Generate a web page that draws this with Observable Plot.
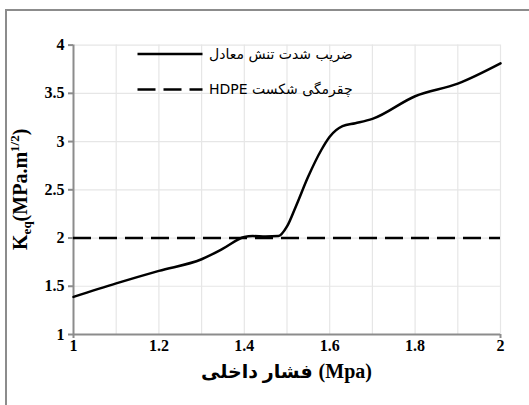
<!DOCTYPE html>
<html><head><meta charset="utf-8">
<script src="https://cdn.jsdelivr.net/npm/d3@7"></script>
<script src="https://cdn.jsdelivr.net/npm/@observablehq/plot@0.6"></script>
<style>
body{margin:0;background:#fff}
#wrap{position:relative;width:529px;height:405px;overflow:hidden}
#border{position:absolute;left:5px;top:9px;width:600px;height:600px;border:2px solid #8c8c8c;box-sizing:border-box;pointer-events:none}
svg{display:block}
</style>
</head><body>
<div id="wrap"></div>
<script>
// Data
const pressure = [1.0, 1.1, 1.2, 1.3, 1.35, 1.4, 1.42, 1.45, 1.48, 1.5, 1.52, 1.55, 1.58, 1.6, 1.63, 1.66, 1.7, 1.8, 1.9, 2.0];
const keq      = [1.39, 1.53, 1.66, 1.78, 1.89, 2.01, 2.02, 2.015, 2.02, 2.12, 2.32, 2.64, 2.91, 3.05, 3.16, 3.19, 3.235, 3.47, 3.60, 3.81];
const toughness = [2];
const seriesNames = ["ضریب شدت تنش معادل", "چقرمگی شکست HDPE"];
const xLabelTicks = [1, 1.2, 1.4, 1.6, 1.8, 2];
const xGridTicks = [1.1, 1.2, 1.3, 1.4, 1.5, 1.6, 1.7, 1.8, 1.9, 2.0];
const xEndTicks = [1, 2];
const yTicks = [1, 1.5, 2, 2.5, 3, 3.5, 4];
const yGridTicks = [1.5, 2, 2.5, 3, 3.5, 4];
const xTitleWords = "فشار داخلی";
const xTitleUnit = "(Mpa)";

const data = pressure.map((p, i) => ({p, k: keq[i]}));
const serif = "Liberation Serif, Times New Roman, DejaVu Sans";
const fmt = d => String(d);

const chart = Plot.plot({
  width: 529, height: 405,
  marginLeft: 73, marginRight: 29, marginTop: 44.6, marginBottom: 71,
  style: {background: "transparent", fontFamily: serif, color: "#000"},
  x: {domain: [1, 2], label: null},
  y: {domain: [1, 4], label: null},
  marks: [
    Plot.gridX(xGridTicks, {stroke: "#e6e6e6", strokeOpacity: 1, strokeWidth: 1.2}),
    Plot.gridY(yGridTicks, {stroke: "#e6e6e6", strokeOpacity: 1, strokeWidth: 1.2}),
    Plot.axisY(yTicks, {tickSize: 5, tickPadding: 4, stroke: "#8c8c8c", strokeWidth: 2, fill: "#000", fontSize: 16, fontWeight: "bold", fontFamily: serif, tickFormat: fmt, label: null}),
    Plot.axisX(xEndTicks, {tickSize: 4, stroke: "#8c8c8c", strokeWidth: 2, tickFormat: () => "", label: null}),
    Plot.axisX(xLabelTicks, {tickSize: 0, tickPadding: 5, fill: "#000", fontSize: 16, fontWeight: "bold", fontFamily: serif, tickFormat: fmt, label: null}),
    Plot.ruleX([1], {stroke: "#8c8c8c", strokeWidth: 2}),
    Plot.ruleY([1], {stroke: "#8c8c8c", strokeWidth: 2}),
    Plot.ruleY(toughness, {stroke: "#000", strokeWidth: 2.5, strokeDasharray: "18,8"}),
    Plot.line(data, {x: "p", y: "k", stroke: "#000", strokeWidth: 2.5, curve: "monotone-x"})
  ]
});

const wrap = document.getElementById("wrap");
wrap.appendChild(chart);
const border = document.createElement("div");
border.id = "border";
wrap.appendChild(border);

const svg = d3.select(chart);
const xs = chart.scale("x"), ys = chart.scale("y");
const xMid = (xs.apply(1) + xs.apply(2)) / 2;
const yMid = (ys.apply(1) + ys.apply(4)) / 2;

// x-axis title: Persian words then unit, laid out left to right
const titleY = ys.apply(1) + 44;
const t1 = svg.append("text").attr("y", titleY).attr("text-anchor", "start")
  .attr("font-family", serif).attr("font-weight", "bold").attr("font-size", 19).attr("fill", "#000")
  .text(xTitleWords);
const t2 = svg.append("text").attr("y", titleY).attr("text-anchor", "start").attr("direction", "ltr")
  .attr("font-family", serif).attr("font-weight", "bold").attr("font-size", 20).attr("fill", "#000")
  .text(xTitleUnit);
const w1 = t1.node().getComputedTextLength(), w2 = t2.node().getComputedTextLength(), gap = 6;
const start = xMid - (w1 + gap + w2) / 2;
t1.attr("x", start);
t2.attr("x", start + w1 + gap);

// y-axis title with subscript / superscript
const yt = svg.append("text")
  .attr("transform", `translate(${xs.apply(1) - 46},${yMid}) rotate(-90)`)
  .attr("text-anchor", "middle")
  .attr("font-family", serif).attr("font-weight", "bold").attr("font-size", 20)
  .attr("fill", "#000");
yt.append("tspan").text("K");
yt.append("tspan").attr("font-size", 13).attr("dy", 4).text("eq");
yt.append("tspan").attr("dy", -4).text("(MPa.m");
yt.append("tspan").attr("font-size", 13).attr("dy", -8).text("1/2");
yt.append("tspan").attr("dy", 8).text(")");

// legend
const legend = svg.append("g");
const legendRows = [{name: seriesNames[0], dash: null, y: 54}, {name: "\u202B" + seriesNames[1] + "\u202C", dash: "18,8", y: 89.5}];
legendRows.forEach(r => {
  legend.append("line")
    .attr("x1", 137.5).attr("x2", 202.5).attr("y1", r.y).attr("y2", r.y)
    .attr("stroke", "#000").attr("stroke-width", 2.5)
    .attr("stroke-dasharray", r.dash);
  legend.append("text")
    .attr("x", 209).attr("y", r.y).attr("dy", "0.35em")
    .attr("text-anchor", "start").attr("direction", "ltr")
    .attr("font-family", "DejaVu Sans").attr("font-size", 14).attr("fill", "#000")
    .text(r.name);
});
</script>
</body></html>
